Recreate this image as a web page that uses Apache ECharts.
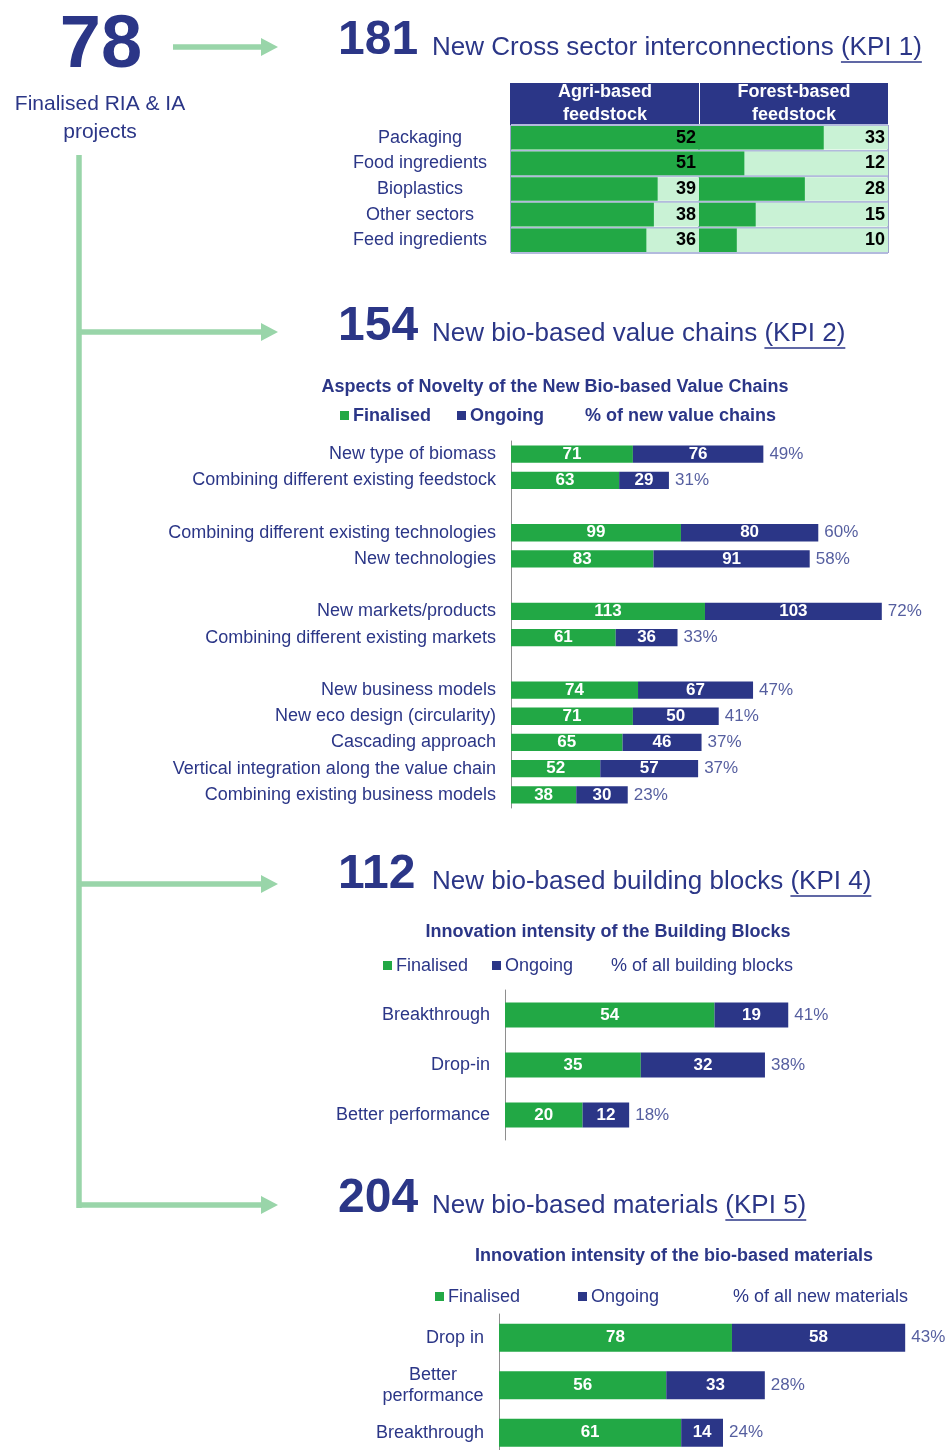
<!DOCTYPE html>
<html>
<head>
<meta charset="utf-8">
<script src="https://cdn.jsdelivr.net/npm/echarts@6/dist/echarts.min.js"></script>
<style>
  html, body { margin: 0; padding: 0; background: #ffffff; overflow: hidden; }
  #chart { width: 950px; height: 1470px; }
</style>
</head>
<body>
<div id="chart"></div>
<script>
// ---- Programme totals ----
const projectTotal = 78;
const projectLabel = 'Finalised RIA & IA\nprojects';
const kpiTotals = [181, 154, 112, 204];
const kpiTitles = ['New Cross sector interconnections', 'New bio-based value chains',
                   'New bio-based building blocks', 'New bio-based materials'];
const kpiRefs = ['(KPI 1)', '(KPI 2)', '(KPI 4)', '(KPI 5)'];

// ---- KPI 1: cross-sector interconnections by feedstock ----
const kpi1Columns = ['Agri-based\nfeedstock', 'Forest-based\nfeedstock'];
const kpi1Sectors = ['Packaging', 'Food ingredients', 'Bioplastics', 'Other sectors', 'Feed ingredients'];
const kpi1Agri = [52, 51, 39, 38, 36];
const kpi1Forest = [33, 12, 28, 15, 10];

// ---- KPI 2: aspects of novelty (empty rows separate the groups) ----
const kpi2Title = 'Aspects of Novelty of the New Bio-based Value Chains';
const kpi2Legend = ['Finalised', 'Ongoing', '% of new value chains'];
const kpi2Aspects = [
  'New type of biomass', 'Combining different existing feedstock', '',
  'Combining different existing technologies', 'New technologies', '',
  'New markets/products', 'Combining different existing markets', '',
  'New business models', 'New eco design (circularity)', 'Cascading approach',
  'Vertical integration along the value chain', 'Combining existing business models'
];
const kpi2Finalised = [71, 63, null, 99, 83, null, 113, 61, null, 74, 71, 65, 52, 38];
const kpi2Ongoing   = [76, 29, null, 80, 91, null, 103, 36, null, 67, 50, 46, 57, 30];
const kpi2Share     = [49, 31, null, 60, 58, null, 72, 33, null, 47, 41, 37, 37, 23];

// ---- KPI 4: innovation intensity of building blocks ----
const kpi4Title = 'Innovation intensity of the Building Blocks';
const kpi4Legend = ['Finalised', 'Ongoing', '% of all building blocks'];
const kpi4Levels = ['Breakthrough', 'Drop-in', 'Better performance'];
const kpi4Finalised = [54, 35, 20];
const kpi4Ongoing = [19, 32, 12];
const kpi4Share = [41, 38, 18];

// ---- KPI 5: innovation intensity of materials ----
const kpi5Title = 'Innovation intensity of the bio-based materials';
const kpi5Legend = ['Finalised', 'Ongoing', '% of all new materials'];
const kpi5Levels = ['Drop in', 'Better\nperformance', 'Breakthrough'];
const kpi5Finalised = [78, 56, 61];
const kpi5Ongoing = [58, 33, 14];
const kpi5Share = [43, 28, 24];

// ---- Styling ----
const NAVY = '#2B3687';
const GREEN = '#22A845';
const PALE = '#C9F2D5';
const ARROW = '#99D5A9';
const FONT = '"Liberation Sans", Arial, sans-serif';

const measureCtx = document.createElement('canvas').getContext('2d');
function textWidth(text, size, weight) {
  measureCtx.font = (weight || 'normal') + ' ' + size + 'px ' + FONT;
  return measureCtx.measureText(text).width;
}

const graphics = [];
function addText(x, y, text, extra) {
  graphics.push({
    type: 'text', x: x, y: y, silent: true, z: 20,
    style: Object.assign({ text: text, fill: NAVY, fontFamily: FONT, fontSize: 18,
      align: 'left', verticalAlign: 'middle' }, extra || {})
  });
}
function addArrow(x1, x2, y) {
  graphics.push({ type: 'line', silent: true,
    shape: { x1: x1, y1: y, x2: x2 - 15, y2: y },
    style: { stroke: ARROW, lineWidth: 5.5 } });
  graphics.push({ type: 'polygon', silent: true,
    shape: { points: [[x2 - 17, y - 9], [x2, y], [x2 - 17, y + 9]] },
    style: { fill: ARROW } });
}

// left-hand figure and connector
addText(101, 47, String(projectTotal), { fontSize: 74, fontWeight: 'bold', align: 'center' });
addText(100, 118, projectLabel, { fontSize: 21, align: 'center', lineHeight: 28 });
addArrow(173, 278, 47);
graphics.push({ type: 'line', silent: true,
  shape: { x1: 79, y1: 155, x2: 79, y2: 1208 },
  style: { stroke: ARROW, lineWidth: 5.5 } });
[332, 884, 1205].forEach(function (y) { addArrow(77, 278, y); });

// KPI headings: large total, title and underlined KPI reference
const headTitleY = [48, 334, 882, 1206];
kpiTotals.forEach(function (total, i) {
  addText(338, headTitleY[i] - 7, String(total), { fontSize: 48, fontWeight: 'bold' });
  const lead = kpiTitles[i] + ' ';
  const x0 = 432 + textWidth(lead, 26);
  const w = textWidth(kpiRefs[i], 26);
  addText(432, headTitleY[i], lead, { fontSize: 26 });
  addText(x0, headTitleY[i], kpiRefs[i], { fontSize: 26 });
  graphics.push({ type: 'line', silent: true,
    shape: { x1: x0, y1: headTitleY[i] + 14, x2: x0 + w, y2: headTitleY[i] + 14 },
    style: { stroke: NAVY, lineWidth: 1.5 } });
});

// KPI 1 table header
[[510, 189, 605], [700, 188, 794]].forEach(function (c, i) {
  graphics.push({ type: 'rect', silent: true, shape: { x: c[0], y: 83, width: c[1], height: 42 },
    style: { fill: NAVY } });
  addText(c[2], 104, kpi1Columns[i], { fontSize: 18, fontWeight: 'bold', fill: '#ffffff',
    align: 'center', lineHeight: 23 });
});

// chart subtitles and legends
function addLegend(y, xs, labels, bold) {
  const weight = bold ? 'bold' : 'normal';
  graphics.push({ type: 'rect', silent: true, shape: { x: xs[0], y: y - 5, width: 9, height: 9 }, style: { fill: GREEN } });
  addText(xs[0] + 13, y, labels[0], { fontWeight: weight });
  graphics.push({ type: 'rect', silent: true, shape: { x: xs[1], y: y - 5, width: 9, height: 9 }, style: { fill: NAVY } });
  addText(xs[1] + 13, y, labels[1], { fontWeight: weight });
  addText(xs[2], y, labels[2], { fontWeight: weight });
}
addText(555, 387, kpi2Title, { fontWeight: 'bold', align: 'center' });
addLegend(416, [340, 457, 585], kpi2Legend, true);
addText(608, 932, kpi4Title, { fontWeight: 'bold', align: 'center' });
addLegend(966, [383, 492, 611], kpi4Legend, false);
addText(674, 1256, kpi5Title, { fontWeight: 'bold', align: 'center' });
addLegend(1297, [435, 578, 733], kpi5Legend, false);

// ---- grids / axes / series ----
const grids = [], xAxes = [], yAxes = [], series = [];
const hiddenAxisParts = { axisLine: { show: false }, axisTick: { show: false }, splitLine: { show: false } };

// KPI 1: two bordered columns with pale tracks, scaled to 50
function addTableColumn(left, width, values, showNames) {
  const g = grids.length;
  grids.push({ left: left, top: 125, width: width, height: 128, show: true,
    borderColor: '#3C4796', borderWidth: 1 });
  xAxes.push({ gridIndex: g, type: 'value', min: 0, max: 50, show: false });
  const yMain = yAxes.length;
  yAxes.push({ gridIndex: g, type: 'category', inverse: true, data: kpi1Sectors,
    axisLine: { show: false }, axisTick: { show: false },
    splitLine: { show: true, lineStyle: { color: '#B3BADD', width: 2 } },
    axisLabel: { show: showNames, align: 'center', margin: 91, fontSize: 18, color: NAVY, fontFamily: FONT } });
  yAxes.push(Object.assign({ gridIndex: g, type: 'category', inverse: true, position: 'right', z: 6,
    data: kpi1Sectors,
    axisLabel: { inside: true, align: 'right', margin: 3, fontSize: 18, fontWeight: 'bold',
      color: '#000000', fontFamily: FONT,
      formatter: function (v, i) { return String(values[i]); } } }, hiddenAxisParts));
  series.push({ type: 'bar', xAxisIndex: xAxes.length - 1, yAxisIndex: yMain, data: values,
    barCategoryGap: '8%', itemStyle: { color: GREEN }, showBackground: true,
    backgroundStyle: { color: PALE }, silent: true, clip: true });
}
addTableColumn(511, 188, kpi1Agri, true);
addTableColumn(699, 189, kpi1Forest, false);

// stacked finalised / ongoing bars with share label after the stack
function addStacked(cfg) {
  const g = grids.length;
  grids.push({ left: cfg.left, top: cfg.top, width: cfg.width, height: cfg.height });
  const xi = xAxes.length;
  xAxes.push({ gridIndex: g, type: 'value', min: 0, max: cfg.max, show: false });
  const yi = yAxes.length;
  const rich = { c: { width: 102, align: 'center', fontSize: 18, color: NAVY, lineHeight: 21, fontFamily: FONT } };
  yAxes.push({ gridIndex: g, type: 'category', inverse: true, data: cfg.names,
    axisLine: { show: true, lineStyle: { color: '#8E8E8E', width: 1 } },
    axisTick: { show: false }, splitLine: { show: false },
    axisLabel: { margin: cfg.margin, fontSize: 18, color: NAVY, fontFamily: FONT, rich: rich,
      formatter: function (v) {
        return v.indexOf('\n') >= 0 ? v.split('\n').map(function (s) { return '{c|' + s + '}'; }).join('\n') : v;
      } } });
  const inLabel = { show: true, position: 'inside', color: '#ffffff', fontWeight: 'bold',
    fontSize: 17, fontFamily: FONT };
  series.push({ name: 'Finalised', type: 'bar', stack: 's' + g, xAxisIndex: xi, yAxisIndex: yi,
    data: cfg.fin, barCategoryGap: cfg.gap, itemStyle: { color: GREEN }, label: inLabel, silent: true });
  series.push({ name: 'Ongoing', type: 'bar', stack: 's' + g, xAxisIndex: xi, yAxisIndex: yi,
    data: cfg.ong, barCategoryGap: cfg.gap, itemStyle: { color: NAVY }, label: inLabel, silent: true });
  const shareData = [];
  cfg.fin.forEach(function (f, i) {
    if (f != null) shareData.push([f + cfg.ong[i], i, cfg.share[i]]);
  });
  series.push({ name: 'Share', type: 'scatter', xAxisIndex: xi, yAxisIndex: yi, data: shareData,
    symbolSize: 0.1, itemStyle: { color: 'rgba(0,0,0,0)' }, silent: true,
    label: { show: true, position: 'right', distance: 6, color: NAVY, fontSize: 17, fontFamily: FONT,
      formatter: function (p) { return p.value[2] + '%'; } } });
}
addStacked({ left: 511, top: 441, width: 412, height: 367, max: 240, gap: '34%', margin: 15,
  names: kpi2Aspects, fin: kpi2Finalised, ong: kpi2Ongoing, share: kpi2Share });
addStacked({ left: 505, top: 990, width: 388, height: 150, max: 100, gap: '50%', margin: 15,
  names: kpi4Levels, fin: kpi4Finalised, ong: kpi4Ongoing, share: kpi4Share });
addStacked({ left: 499, top: 1314, width: 448, height: 142.5, max: 150, gap: '41%', margin: 15,
  names: kpi5Levels, fin: kpi5Finalised, ong: kpi5Ongoing, share: kpi5Share });

const chart = echarts.init(document.getElementById('chart'), null, { renderer: 'canvas' });
chart.setOption({
  animation: false,
  backgroundColor: '#ffffff',
  textStyle: { fontFamily: FONT },
  grid: grids,
  xAxis: xAxes,
  yAxis: yAxes,
  series: series,
  graphic: graphics
});
</script>
</body>
</html>
